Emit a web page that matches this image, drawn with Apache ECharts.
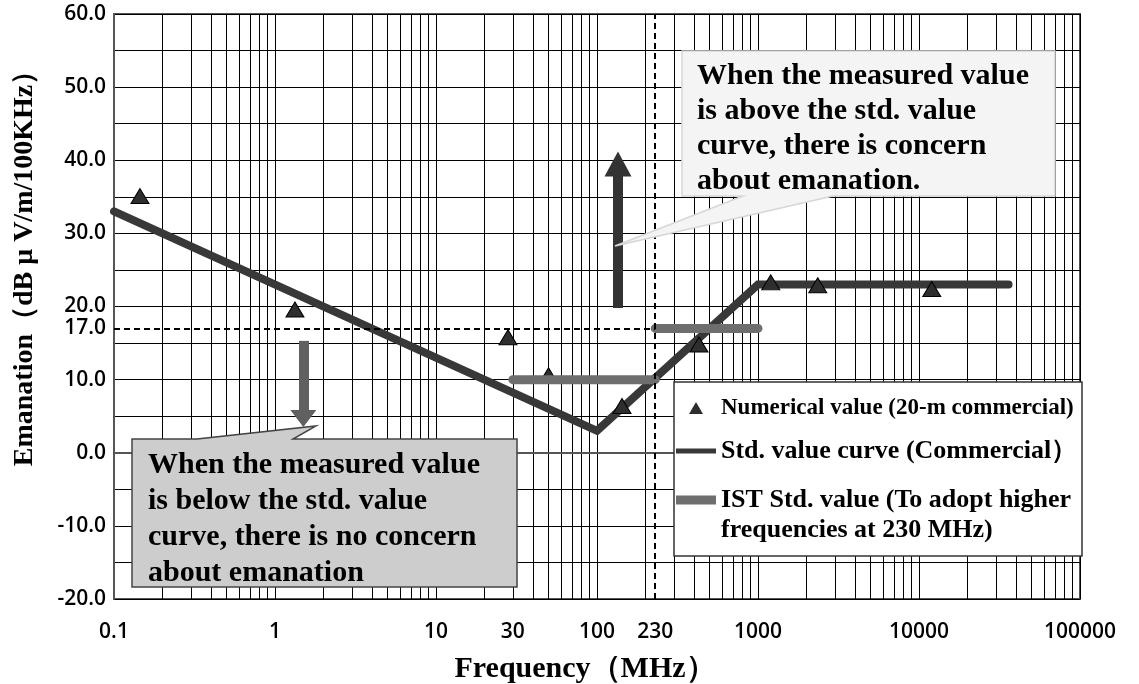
<!DOCTYPE html>
<html>
<head>
<meta charset="utf-8">
<script src="https://cdn.jsdelivr.net/npm/echarts@6/dist/echarts.min.js"></script>
<style>
  html, body { margin: 0; padding: 0; background: #fff; }
  #chart { width: 1139px; height: 684px; }
</style>
</head>
<body>
<div id="chart"></div>
<script>
// axis ticks
const freqLabels = [0.1, 1, 10, 30, 100, 230, 1000, 10000, 100000];
const levelLabels = [-20, -10, 0, 10, 17, 20, 30, 40, 50, 60];
const levelGrid = [-20, -15, -10, -5, 0, 5, 10, 15, 20, 25, 30, 35, 40, 45, 50, 55, 60];

// numerical values (20-m commercial)
const measuredFreq = [0.145, 1.33, 28, 50, 143, 430, 1200, 2350, 12000];
const measuredLevel = [35.1, 19.6, 15.8, 10.6, 6.4, 14.8, 23.3, 22.9, 22.4];

// std. value curve (commercial)
const stdFreq = [0.1, 100, 1000, 36000];
const stdLevel = [33, 3, 23, 23];

// IST std. value, split at 230 MHz
const istFreq = [30, 230, 230, 230, 1000];
const istLevel = [10, 10, '-', 17, 17];

// reference lines and arrows
const limitFreq = 230;
const limitLevel = 17;
const upArrow = [[135, 19.8], [135, 39.5]];
const downArrow = [[1.5, 15.3], [1.5, 4.7]];

const seriesNames = [
  'Numerical value (20-m commercial)',
  'Std. value curve (Commercial）',
  'IST Std. value (To adopt higher\nfrequencies at 230 MHz)'
];

// grid lines at 1..9 x 10^k
const freqGrid = [];
for (let k = -1; k <= 4; k++) {
  for (let m = 1; m <= 9; m++) freqGrid.push(+(m * Math.pow(10, k)).toPrecision(6));
}
freqGrid.push(100000);

const zip = (xs, ys) => xs.map((x, i) => [x, ys[i]]);
const serif = '"Liberation Serif", "Times New Roman", serif';
const sans = '"Open Sans", "DejaVu Sans", sans-serif';
const legendText = { fontFamily: serif, fontWeight: 'bold', color: '#000' };

const chart = echarts.init(document.getElementById('chart'));

const option = {
  animation: false,
  grid: {
    left: 114, top: 14, right: 59, bottom: 85,
    outerBoundsMode: 'none',
    show: true, borderColor: '#555', borderWidth: 2
  },
  xAxis: {
    type: 'log', logBase: 10, min: 0.1, max: 100000,
    name: 'Frequency（MHz）',
    nameLocation: 'middle', nameGap: 55,
    nameTextStyle: { fontFamily: serif, fontWeight: 'bold', fontSize: 30, color: '#000', padding: [0, 24, 0, 0] },
    axisLine: { lineStyle: { color: '#555', width: 2 } },
    axisTick: { show: false, customValues: freqGrid },
    axisLabel: {
      customValues: freqLabels, margin: 23,
      fontFamily: sans, fontWeight: 600, fontSize: 21, color: '#000',
      formatter: v => String(+(+v).toPrecision(6))
    },
    splitLine: { show: true, lineStyle: { color: '#000', width: 1 } }
  },
  yAxis: {
    type: 'value', min: -20, max: 60, interval: 5,
    name: 'Emanation（dB μ V/m/100KHz）',
    nameLocation: 'middle', nameGap: 75,
    nameTextStyle: { fontFamily: serif, fontWeight: 'bold', fontSize: 28, color: '#000', padding: [0, 0, 0, 90] },
    axisLine: { show: true, lineStyle: { color: '#555', width: 2 } },
    axisTick: { show: false, customValues: levelGrid },
    axisLabel: {
      customValues: levelLabels, margin: 8,
      fontFamily: sans, fontWeight: 600, fontSize: 21, color: '#000',
      formatter: v => (+v).toFixed(1)
    },
    splitLine: { show: true, lineStyle: { color: '#000', width: 1 } }
  },
  legend: [
    {
      orient: 'vertical', left: 676, top: 393, padding: 0, itemGap: 13,
      itemWidth: 40, itemHeight: 12,
      textStyle: legendText, itemStyle: { borderWidth: 0 },
      data: [
        { name: seriesNames[0], icon: 'path://M7,0 L14,12 L0,12 Z', textStyle: { fontSize: 23, lineHeight: 30 } },
        { name: seriesNames[1], icon: 'path://M0,0 L40,0 L40,5 L0,5 Z', textStyle: { fontSize: 26, lineHeight: 30 } }
      ]
    },
    {
      // empty first line keeps the icon level with the first text line
      orient: 'vertical', left: 676, top: 465, padding: 0,
      itemWidth: 40, itemHeight: 12,
      itemStyle: { borderWidth: 0 },
      formatter: name => '{s|\u00a0}\n' + name.split('\n').map(l => '{t|' + l + '}').join('\n'),
      textStyle: {
        ...legendText,
        rich: {
          s: { fontSize: 10, lineHeight: 30 },
          t: { fontFamily: serif, fontWeight: 'bold', fontSize: 26, lineHeight: 30, color: '#000' }
        }
      },
      data: [
        { name: seriesNames[2], icon: 'path://M0,0 L40,0 L40,9 L0,9 Z' }
      ]
    }
  ],
  series: [
    {
      name: 'guides', type: 'line', data: [], silent: true, z: 1,
      markLine: {
        silent: true, symbol: ['none', 'none'], label: { show: false },
        lineStyle: { color: '#000', width: 2, type: [6, 4] },
        data: [
          { xAxis: limitFreq },
          [{ coord: [0.1, limitLevel] }, { coord: [limitFreq, limitLevel] }]
        ]
      }
    },
    {
      name: seriesNames[1], type: 'line', z: 2,
      data: zip(stdFreq, stdLevel), showSymbol: false,
      color: '#383838',
      lineStyle: { color: '#383838', width: 8, cap: 'round', join: 'miter' }
    },
    {
      name: seriesNames[0], type: 'scatter', z: 3,
      data: zip(measuredFreq, measuredLevel),
      symbol: 'triangle', symbolSize: [18, 15],
      itemStyle: { color: '#2e2e2e', borderColor: '#000', borderWidth: 1, opacity: 1 }
    },
    {
      name: seriesNames[2], type: 'line', z: 4,
      data: zip(istFreq, istLevel), showSymbol: false, connectNulls: false,
      color: '#6e6e6e',
      lineStyle: { color: '#6e6e6e', width: 9, cap: 'round' }
    },
    {
      name: 'arrows', type: 'line', data: [], silent: true, z: 5,
      markLine: {
        silent: true, label: { show: false },
        data: [
          [
            { coord: upArrow[0], symbol: 'none', lineStyle: { color: '#333', width: 10, type: 'solid' } },
            { coord: upArrow[1], symbol: 'triangle', symbolSize: [27, 25], itemStyle: { color: '#333' } }
          ],
          [
            { coord: downArrow[0], symbol: 'none', lineStyle: { color: '#606060', width: 10, type: 'solid' } },
            { coord: downArrow[1], symbol: 'triangle', symbolSize: [26, 17], itemStyle: { color: '#606060' } }
          ]
        ]
      }
    }
  ],
  graphic: [
    {
      // legend frame
      type: 'rect', z: 3, silent: true,
      shape: { x: 674, y: 382, width: 408, height: 174 },
      style: { fill: '#fff', stroke: '#333', lineWidth: 1.5 }
    },
    {
      type: 'polygon', z: 100, silent: true,
      shape: { points: [[682, 51], [1055, 51], [1055, 196], [833, 196], [615, 246], [743, 196], [682, 196]] },
      style: { fill: '#f4f4f4', stroke: '#d6d6d6', lineWidth: 1.5 }
    },
    {
      type: 'text', z: 101, silent: true, x: 697, y: 59,
      style: {
        text: 'When the measured value\nis above the std. value\ncurve, there is concern\nabout emanation.',
        font: 'bold 30px ' + serif, lineHeight: 35, fill: '#000', verticalAlign: 'top'
      }
    },
    {
      type: 'polygon', z: 100, silent: true,
      shape: { points: [[132, 439], [197, 439], [316, 426], [293, 439], [517, 439], [517, 587], [132, 587]] },
      style: { fill: '#cdcdcd', stroke: '#444', lineWidth: 1.5 }
    },
    {
      type: 'text', z: 101, silent: true, x: 148, y: 447,
      style: {
        text: 'When the measured value\nis below the std. value\ncurve, there is no concern\nabout emanation',
        font: 'bold 30px ' + serif, lineHeight: 36, fill: '#000', verticalAlign: 'top'
      }
    }
  ]
};

chart.setOption(option);
</script>
</body>
</html>
